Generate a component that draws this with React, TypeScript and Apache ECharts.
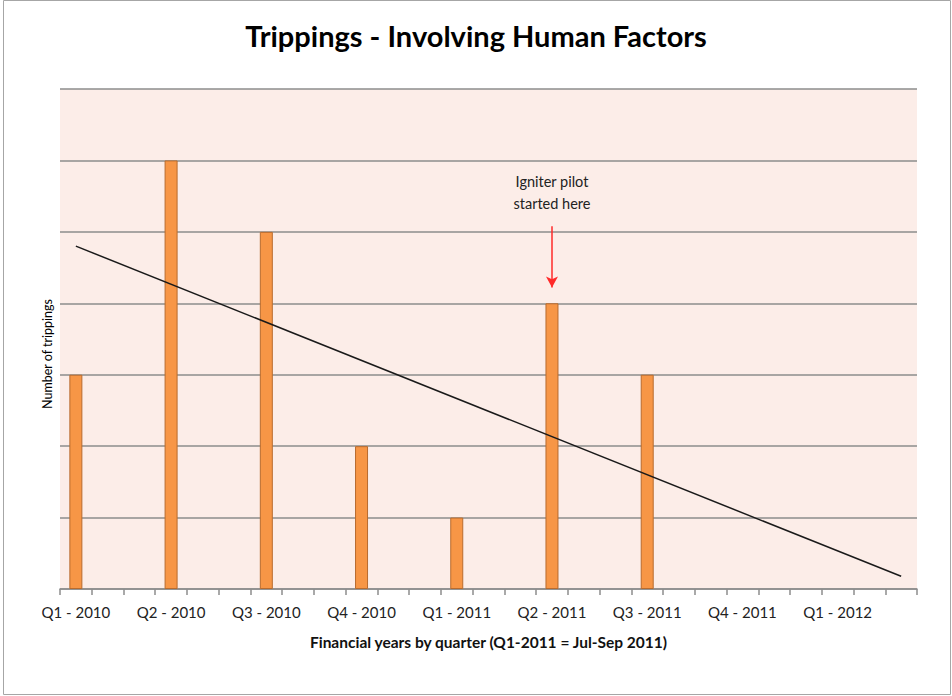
import React, { useEffect, useRef } from "react";
import * as echarts from "echarts";

// Quarter labels and the number of trippings in each quarter
const quarters = [
  "Q1 - 2010", "Q2 - 2010", "Q3 - 2010", "Q4 - 2010", "Q1 - 2011",
  "Q2 - 2011", "Q3 - 2011", "Q4 - 2011", "Q1 - 2012",
];
const trippings = [3, 6, 5, 2, 1, 4, 3, 0, 0];
// The axis is monthly: 3 slots per quarter, 27 slots in total
const slotsPerQuarter = 3;
const totalSlots = 27;
const yMax = 7;
const annotationQuarter = "Q2 - 2011";
const annotationText = "Igniter pilot\nstarted here";

const FONT = "Lato, 'Open Sans', 'DejaVu Sans', sans-serif";

export default function App() {
  const ref = useRef<HTMLDivElement>(null);
  useEffect(() => {
    if (!ref.current) return;
    const chart = echarts.init(ref.current, null, { renderer: "svg" });

    const slots = Array.from({ length: totalSlots }, (_, i) => String(i));
    const barData: (number | null)[] = slots.map(() => null);
    quarters.forEach((_, qi) => {
      barData[qi * slotsPerQuarter] = trippings[qi] > 0 ? trippings[qi] : null;
    });

    // linear trend (least squares) over the quarterly points, x in slot units
    const xs = quarters.map((_, qi) => qi * slotsPerQuarter);
    const n = xs.length;
    const mx = xs.reduce((a, b) => a + b, 0) / n;
    const my = trippings.reduce((a, b) => a + b, 0) / n;
    let sxy = 0, sxx = 0;
    xs.forEach((x, i) => {
      sxy += (x - mx) * (trippings[i] - my);
      sxx += (x - mx) * (x - mx);
    });
    const slope = sxy / sxx;
    const intercept = my - slope * mx;
    const trendData: (number | null)[] = slots.map(() => null);
    trendData[0] = intercept;
    trendData[totalSlots - 1] = intercept + slope * (totalSlots - 1);

    const annSlot = quarters.indexOf(annotationQuarter) * slotsPerQuarter;
    const annVal = trippings[quarters.indexOf(annotationQuarter)];

    chart.setOption({
      animation: false,
      backgroundColor: "#ffffff",
      title: {
        text: "Trippings - Involving Human Factors",
        left: "center",
        top: 16,
        textStyle: { fontFamily: FONT, fontWeight: "bold", fontSize: 29, color: "#000" },
      },
      grid: { left: 60, right: 35, top: 89, bottom: 107, show: true, backgroundColor: "#fcede8", borderWidth: 0 },
      xAxis: {
        type: "category",
        data: slots,
        boundaryGap: true,
        name: "Financial years by quarter (Q1-2011 = Jul-Sep 2011)",
        nameLocation: "middle",
        nameGap: 45,
        nameTextStyle: { fontFamily: FONT, fontWeight: "bold", fontSize: 15.5, color: "#111" },
        axisLine: { lineStyle: { color: "#8c8c8c", width: 1.5 } },
        axisTick: { show: true, interval: 0, length: 6, lineStyle: { color: "#8c8c8c", width: 1.5 } },
        axisLabel: {
          interval: 0,
          margin: 15,
          fontFamily: FONT,
          fontSize: 15,
          color: "#222",
          formatter: (v: string) => {
            const i = Number(v);
            return i % slotsPerQuarter === 0 ? quarters[i / slotsPerQuarter] ?? "" : "";
          },
        },
      },
      yAxis: {
        type: "value",
        min: 0,
        max: yMax,
        interval: 1,
        name: "Number of trippings",
        nameLocation: "middle",
        nameGap: 6,
        nameRotate: 90,
        nameTextStyle: { fontFamily: FONT, fontSize: 12.5, color: "#000", padding: [0, 0, 0, -30] },
        axisLine: { show: false },
        axisTick: { show: false },
        axisLabel: { show: false },
        splitLine: { lineStyle: { color: "#8c8c8c", width: 1.5 } },
      },
      series: [
        {
          type: "bar",
          data: barData,
          barWidth: 13,
          itemStyle: { color: "#f79646", borderColor: "#b86b2e", borderWidth: 1 },
          markPoint: {
            symbol: "rect",
            symbolSize: 1,
            itemStyle: { color: "rgba(0,0,0,0)" },
            label: {
              show: true,
              position: "inside",
              formatter: annotationText,
              fontFamily: FONT,
              fontSize: 14.5,
              lineHeight: 22,
              color: "#222",
            },
            data: [{ coord: [String(annSlot), annVal + 1.55] }],
          },
          markLine: {
            silent: true,
            symbol: ["none", "arrow"],
            symbolSize: [9, 11],
            label: { show: false },
            lineStyle: { color: "#ff2a2a", width: 1.5, type: "solid" },
            data: [[
              { coord: [String(annSlot), annVal + 1.08] },
              { coord: [String(annSlot), annVal + 0.22] },
            ]],
          },
          z: 2,
        },
        {
          type: "line",
          data: trendData,
          connectNulls: true,
          showSymbol: false,
          symbol: "none",
          lineStyle: { color: "#1a1a1a", width: 1.5 },
          z: 3,
        },
      ],
      graphic: [
        {
          type: "rect",
          shape: { x: 3.5, y: 0.5, width: 947, height: 694 },
          style: { fill: "none", stroke: "#a6a6a6", lineWidth: 1 },
          silent: true,
        },
      ],
    });
    return () => chart.dispose();
  }, []);
  return (
    <div
      ref={ref}
      style={{ position: "fixed", left: 0, top: 0, width: 952, height: 696 }}
    />
  );
}
